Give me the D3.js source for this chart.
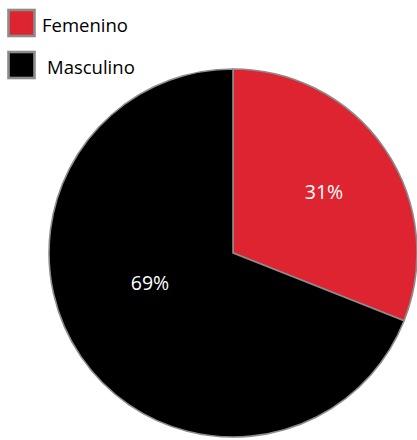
<!DOCTYPE html>
<html>
<head>
<meta charset="utf-8">
<script src="https://cdn.jsdelivr.net/npm/d3@7"></script>
<style>
  html, body { margin: 0; padding: 0; background: #fff; }
  svg { display: block; font-family: "Open Sans", sans-serif; }
</style>
</head>
<body>
<svg id="chart" width="417" height="440"></svg>
<script>
// datos
const categorias = ['Femenino', 'Masculino']
const valores = [31, 69]
const colores = ['#de2430', '#000000']

const svg = d3.select('#chart')
const cx = 233, cy = 253, radio = 184

const pie = d3.pie().sort(null).startAngle(0)
const arcos = pie(valores)

const arc = d3.arc().innerRadius(0).outerRadius(radio)

const g = svg.append('g').attr('transform', `translate(${cx},${cy})`)

// porciones
g.selectAll('path.slice')
  .data(arcos)
  .enter()
  .append('path')
  .classed('slice', true)
  .attr('d', arc)
  .attr('fill', (d, i) => colores[i])
  .attr('stroke', '#8c8c8c')
  .attr('stroke-width', 1.6)
  .attr('stroke-linejoin', 'round')

// etiquetas de porcentaje
const labelArc = d3.arc().innerRadius(110).outerRadius(110)
const ajuste = [[0, 0], [8, -32]] // el original no centra la etiqueta grande
g.selectAll('text.pct')
  .data(arcos)
  .enter()
  .append('text')
  .classed('pct', true)
  .attr('x', (d, i) => labelArc.centroid(d)[0] + ajuste[i][0])
  .attr('y', (d, i) => labelArc.centroid(d)[1] + ajuste[i][1])
  .attr('text-anchor', 'middle')
  .attr('dominant-baseline', 'central')
  .attr('fill', '#fff')
  .style('font-size', '19.5px')
  .text(d => d.data + '%')

// leyenda
const leyenda = svg.append('g')
  .selectAll('g.item')
  .data(categorias)
  .enter()
  .append('g')
  .classed('item', true)
  .attr('transform', (d, i) => `translate(0,${i * 42})`)

leyenda.append('rect')
  .attr('x', 8.5)
  .attr('y', 10)
  .attr('width', 26)
  .attr('height', 26)
  .attr('fill', (d, i) => colores[i])
  .attr('stroke', '#8c8c8c')
  .attr('stroke-width', 2.6)

leyenda.append('text')
  .attr('x', (d, i) => 42 + i * 5)
  .attr('y', 32)
  .attr('fill', '#000')
  .style('font-size', '18.5px')
  .text(d => d)
</script>
</body>
</html>
